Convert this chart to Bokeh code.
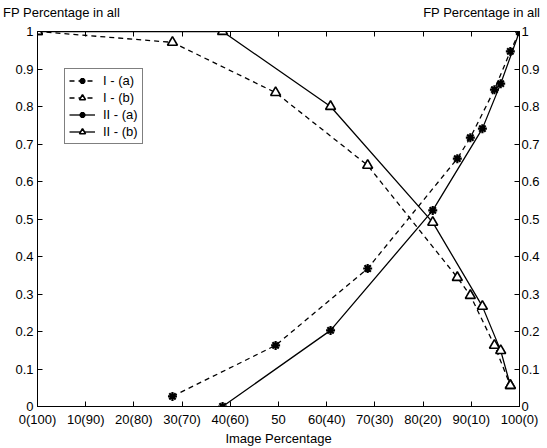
from bokeh.plotting import figure
from bokeh.layouts import column
from bokeh.models import (Range1d, LinearAxis, FixedTicker, NumeralTickFormatter,
                          Legend, LegendItem, Div)
from bokeh.embed import file_html
from bokeh.resources import INLINE

# ---- data ----
x_ticks = [0, 10, 20, 30, 40, 50, 60, 70, 80, 90, 100]
x_tick_labels = ["0(100)", "10(90)", "20(80)", "30(70)", "40(60)", "50",
                 "60(40)", "70(30)", "80(20)", "90(10)", "100(0)"]
y_ticks = [0, 0.1, 0.2, 0.3, 0.4, 0.5, 0.6, 0.7, 0.8, 0.9, 1.0]

ia_x = [28, 49.4, 68.5, 87.1, 89.8, 94.8, 98.1, 100]
ia_y = [0.027, 0.163, 0.368, 0.661, 0.717, 0.845, 0.947, 1.0]
ib_x = [0, 28, 49.4, 68.5, 87.1, 89.8, 94.8, 98.1]
ib_y = [1.0, 0.971, 0.837, 0.643, 0.344, 0.296, 0.163, 0.056]
iia_x = [38.4, 60.8, 82.0, 92.3, 96.1, 100]
iia_y = [0.0, 0.203, 0.523, 0.741, 0.861, 1.0]
iib_x = [0, 38.4, 60.8, 82.0, 92.3, 96.1, 98.1]
iib_y = [1.0, 1.0, 0.8, 0.491, 0.267, 0.149, 0.056]

series_labels = ["I - (a)", "I - (b)", "II - (a)", "II - (b)"]
title_text = "FP Percentage in all"
x_label = "Image Percentage"

FONT = "Liberation Sans"

p = figure(width=547, height=428, x_range=Range1d(0, 100), y_range=Range1d(0, 1),
           output_backend="svg", toolbar_location=None,
           x_axis_location=None, y_axis_location=None,
           min_border_left=37, min_border_right=28, min_border_top=11, min_border_bottom=42)
p.xgrid.visible = False
p.ygrid.visible = False
p.outline_line_color = "black"
p.outline_line_width = 1
p.background_fill_color = "white"
p.border_fill_color = "white"


def style_axis(ax):
    ax.major_tick_in = 5
    ax.major_tick_out = 0
    ax.minor_tick_line_color = None
    ax.axis_line_color = "black"
    ax.major_tick_line_color = "black"
    ax.major_label_text_font = FONT
    ax.major_label_text_font_size = "13px"
    ax.major_label_text_color = "black"


bottom = LinearAxis(ticker=FixedTicker(ticks=x_ticks),
                    major_label_overrides={t: l for t, l in zip(x_ticks, x_tick_labels)})
style_axis(bottom)
bottom.major_label_standoff = 5
bottom.axis_label = x_label
bottom.axis_label_text_font = FONT
bottom.axis_label_text_font_size = "13px"
bottom.axis_label_text_font_style = "normal"
bottom.axis_label_text_color = "black"
bottom.axis_label_standoff = 1
p.add_layout(bottom, "below")

top = LinearAxis(ticker=FixedTicker(ticks=x_ticks),
                 major_label_overrides={t: "" for t in x_ticks})
style_axis(top)
top.major_label_standoff = 0
top.major_label_text_font_size = "1px"
p.add_layout(top, "above")

left = LinearAxis(ticker=FixedTicker(ticks=y_ticks), formatter=NumeralTickFormatter(format="0.[0]"))
style_axis(left)
left.major_label_standoff = 4
p.add_layout(left, "left")

right = LinearAxis(ticker=FixedTicker(ticks=y_ticks), formatter=NumeralTickFormatter(format="0.[0]"))
style_axis(right)
right.major_label_standoff = 2
p.add_layout(right, "right")

LW = 1.3
l1 = p.line(ia_x, ia_y, line_color="black", line_width=LW, line_dash="5 4")
m1 = p.scatter(ia_x, ia_y, marker="asterisk", size=9, line_color="black", line_width=2.2)
l2 = p.line(ib_x, ib_y, line_color="black", line_width=LW, line_dash="5 4")
m2 = p.scatter(ib_x, ib_y, marker="triangle", size=10, line_color="black", line_width=1.6,
               fill_color="white")
l3 = p.line(iia_x, iia_y, line_color="black", line_width=LW)
m3 = p.scatter(iia_x, iia_y, marker="asterisk", size=9, line_color="black", line_width=2.2)
l4 = p.line(iib_x, iib_y, line_color="black", line_width=LW)
m4 = p.scatter(iib_x, iib_y, marker="triangle", size=10, line_color="black", line_width=1.6,
               fill_color="white")

legend = Legend(items=[
    LegendItem(label=series_labels[0], renderers=[l1, m1]),
    LegendItem(label=series_labels[1], renderers=[l2, m2]),
    LegendItem(label=series_labels[2], renderers=[l3, m3]),
    LegendItem(label=series_labels[3], renderers=[l4, m4]),
], location=(27, 262))
legend.border_line_color = "black"
legend.border_line_width = 1
legend.background_fill_alpha = 1
legend.label_text_font = FONT
legend.label_text_font_size = "13px"
legend.label_text_color = "black"
legend.glyph_width = 26
legend.glyph_height = 15
legend.label_height = 15
legend.spacing = 2
legend.padding = 4
legend.margin = 0
legend.label_standoff = 8
p.add_layout(legend, "center")

title_html = (
    '<div style="position:relative;width:547px;height:20px;'
    "font-family:'Liberation Sans';font-size:13px;color:black;\">"
    '<span style="position:absolute;left:3px;top:4px;white-space:nowrap">%s</span>'
    '<span style="position:absolute;right:7px;top:4px;white-space:nowrap">%s</span>'
    '</div>' % (title_text, title_text)
)
header = Div(text=title_html, width=547, height=20, margin=(0, 0, 0, 0))

layout = column(header, p, spacing=0)
open("out.html", "w").write(file_html(layout, INLINE))
